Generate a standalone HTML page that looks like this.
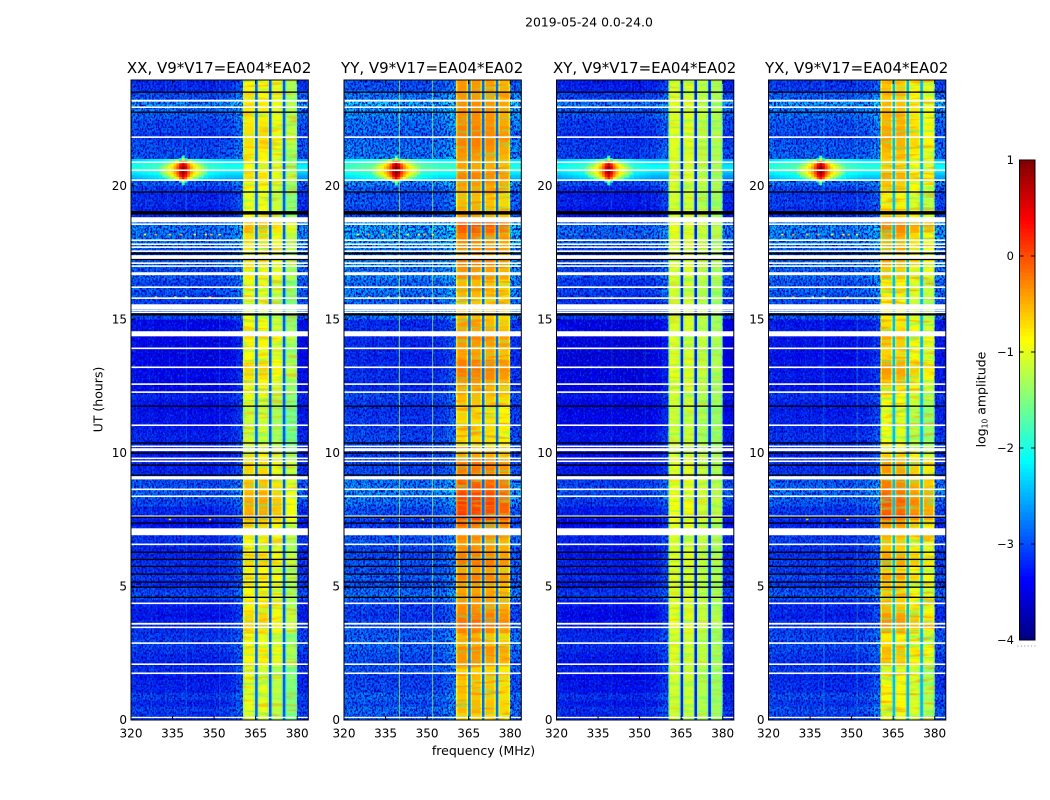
<!DOCTYPE html>
<html lang="en">
<head>
<meta charset="utf-8">
<title>2019-05-24 waterfall amplitude</title>
<style>
html,body{margin:0;padding:0;background:#fff;width:1050px;height:800px;overflow:hidden}
svg{display:block}
text{font-family:"DejaVu Sans","Liberation Sans",sans-serif;fill:#000}
</style>
</head>
<body>
<svg id="figure" xmlns="http://www.w3.org/2000/svg" width="1050" height="800" viewBox="0 0 1050 800">
  <defs>
    <filter id="speckle-dark" x="0" y="0" width="1" height="1" color-interpolation-filters="sRGB">
      <feTurbulence type="fractalNoise" baseFrequency="0.55 0.42" numOctaves="2" seed="4"/>
      <feColorMatrix type="matrix" values="0 0 0 0 0  0 0 0 0 0  0 0 0 0 0.7  4 0 0 0 -1.65"/>
    </filter>
    <filter id="speckle-light" x="0" y="0" width="1" height="1" color-interpolation-filters="sRGB">
      <feTurbulence type="fractalNoise" baseFrequency="0.55 0.4" numOctaves="2" seed="11"/>
      <feColorMatrix type="matrix" values="0 0 0 0 0  0 0 0 0 0.5  0 0 0 0 1  0 4 0 0 -2.1"/>
    </filter>
    <filter id="streak-warm" x="0" y="0" width="1" height="1" color-interpolation-filters="sRGB">
      <feTurbulence type="fractalNoise" baseFrequency="0.035 0.26" numOctaves="2" seed="7"/>
      <feColorMatrix type="matrix" values="0 0 0 0 1  0 0 0 0 0.55  0 0 0 0 0  5 0 0 0 -2.6"/>
    </filter>
    <filter id="streak-cool" x="0" y="0" width="1" height="1" color-interpolation-filters="sRGB">
      <feTurbulence type="fractalNoise" baseFrequency="0.04 0.3" numOctaves="2" seed="19"/>
      <feColorMatrix type="matrix" values="0 0 0 0 0.35  0 0 0 0 1  0 0 0 0 0.5  0 5 0 0 -2.6"/>
    </filter>
  </defs>
  <rect x="0" y="0" width="1050" height="800" fill="#ffffff"/>
  <text x="589" y="26.5" font-size="12.4" text-anchor="middle">2019-05-24 0.0-24.0</text>
  <text x="483.5" y="755" font-size="12.5" text-anchor="middle">frequency (MHz)</text>
  <text transform="translate(102.5,399.5) rotate(-90)" font-size="12.5" text-anchor="middle">UT (hours)</text>
  <text transform="translate(985.5,399.5) rotate(-90)" font-size="12.5" text-anchor="middle">log<tspan font-size="7.5" dy="2">10</tspan><tspan dy="-2"> amplitude</tspan></text>
</svg>
<script>
// ---- chart data (log10 amplitude, hours, MHz) ----
const panelTitles = ["XX, V9*V17=EA04*EA02", "YY, V9*V17=EA04*EA02", "XY, V9*V17=EA04*EA02", "YX, V9*V17=EA04*EA02"];
const xTickValues = [320, 335, 350, 365, 380];
const yTickValues = [0, 5, 10, 15, 20];
const colorbarTickValues = [-4, -3, -2, -1, 0, 1];

// one value per 0.25 h, from 0 h upward
const lowBandLevels = [
  -3.0,-2.9,-3.05,-2.9,  -3.1,-3.1,-3.15,-3.0,  -3.1,-3.05,-2.95,-2.9,  -2.95,-3.0,-3.1,-3.2,
  -3.15,-3.1,-2.85,-2.9,  -3.05,-2.95,-3.05,-3.0,  -3.1,-3.1,-3.0,-3.0,  -3.1,-3.2,-3.05,-3.05,
  -2.85,-2.75,-2.7,-2.8,  -3.0,-3.1,-3.1,-3.15,  -3.2,-3.1,-3.1,-3.15,  -3.2,-3.2,-3.25,-3.2,
  -3.1,-3.3,-3.3,-3.25,  -3.3,-3.3,-3.35,-3.3,  -3.3,-3.3,-3.25,-3.3,  -2.85,-2.8,-2.9,-2.85,
  -2.75,-2.85,-2.7,-2.8,  -2.7,-2.85,-2.75,-2.6,  -2.6,-2.55,-2.6,-3.1,  -3.1,-3.0,-3.05,-2.95,
  -2.7,-1.85,-1.7,-1.75,  -2.8,-2.8,-2.85,-2.95,  -2.85,-2.85,-2.7,-2.6,  -2.45,-2.8,-3.0,-3.05
];
const highBandLevels = [
  -1.1,-1.0,-1.0,-1.05,  -1.0,-1.05,-1.0,-1.1,  -0.85,-0.85,-0.8,-0.95,  -1.0,-0.75,-0.65,-0.7,
  -0.8,-0.85,-0.85,-0.9,  -0.85,-0.75,-0.9,-0.7,  -0.75,-0.85,-0.85,-0.8,  -0.75,-0.65,-0.45,-0.5,
  -0.45,-0.5,-0.55,-0.6,  -0.85,-0.7,-0.7,-0.9,  -1.05,-1.1,-1.15,-1.1,  -1.15,-1.1,-1.15,-1.05,
  -1.0,-0.95,-0.85,-0.75,  -0.7,-0.75,-0.9,-0.9,  -0.85,-0.75,-0.9,-0.95,  -1.0,-1.0,-1.05,-1.0,
  -0.95,-1.0,-0.8,-0.85,  -0.75,-0.9,-0.8,-0.8,  -0.75,-0.6,-0.55,-0.9,  -0.95,-1.0,-1.0,-0.9,
  -0.85,-0.75,-0.9,-0.9,  -0.85,-0.8,-0.75,-0.75,  -0.75,-0.8,-0.8,-0.8,  -0.8,-0.85,-0.85,-0.85
];
// 2 MHz low-band channels from 320 MHz
const lowChannelOffsets = [0.1,0.05,0.02,0.08,0.02,-0.02,0.06,0.03,0.0,0.04,-0.03,0.02,-0.02,0,-0.04,0.0,0.02,0.06,0.14,0.28];
const bandEdges = [[360.4,364.8],[365.6,369.8],[370.6,374.8],[375.6,380]];
const notchEdges = [[364.8,365.6],[369.8,370.6],[374.8,375.6]];
const notchLevels = [-2.9,-2.95,-2.95];
const panelNotchOffsets = [0, 0.1, -0.3, 0.45];
const bandProfile = [-0.3,0.07,-0.25];
const rightEdgeLimit = 384;
// per-polarisation adjustments: XX, YY, XY, YX
const panelLowOffsets = [-0.1, 0.16, -0.2, 0.0];
const panelHighGains = [1, 1.15, 0.3, 1.4];
const panelBandOffsets = [
  [-0.05,-0.05,-0.22,-0.5],
  [0.42,0.42,0.38,0.28],
  [-0.26,-0.26,-0.4,-0.5],
  [0.2,0.15,-0.05,-0.2]
];
// flagged (white) time ranges in hours
const flagStart = [0.06,1.71,2.05,2.84,3.43,3.56,4.33,6.54,6.91,7.59,8.34,8.6,9.0,9.65,9.76,10.06,10.21,11.0,12.24,12.54,13.17,13.88,14.36,15.23,15.31,15.38,15.76,16.17,16.65,16.96,17.07,17.25,17.52,17.67,17.78,17.93,18.53,18.63,20.18,20.55,20.85,21.79,22.91,23.15];
const flagEnd   = [0.11,1.77,2.11,2.9, 3.49,3.63,4.39,6.6, 7.17,7.65,8.4, 8.66,9.12,9.71,9.82,10.17,10.27,11.06,12.3,12.6, 13.23,13.94,14.55,15.29,15.37,15.56,15.82,16.23,16.76,17.02,17.13,17.4, 17.58,17.73,17.84,17.99,18.59,18.82,20.24,20.61,20.91,21.85,22.97,23.22];
// black (missing) time ranges in hours
const blackStart = [4.56,4.94,5.13,5.43,5.72,5.98,6.25,7.34,7.56,9.14,9.51,9.96,10.34,11.72,15.14,17.21,17.43,18.92,19.74,22.73,23.48];
const blackEnd   = [4.61,4.99,5.18,5.48,5.77,6.03,6.3, 7.39,7.61,9.19,9.56,10.01,10.39,11.77,15.22,17.26,17.5,19.05,19.79,22.78,23.53];
// broad band around the interferer, 2 MHz channels from 320 MHz, 0.1 h rows from 20.2 h up
const rfiBandStart = 20.2;
const rfiBandLevels = [-2.1,-2.05,-2.0,-1.95,-1.9,-1.85,-1.7,-1.5,-1.2,-1.0,-1.2,-1.5,-1.7,-1.85,-1.95,-2.0,-2.05,-2.1,-2.1,-2.1];
const rfiBandRowOffsets = [-0.45,-0.35,-0.2,-0.05,0.1,0.05,-0.05,-0.25];
const rfiBandRightEdge = -2.25;
// strong interferer near 338.8 MHz: rows top to bottom (0.1 h each), columns are centre then +/-1..8 MHz
const rfiFreq = 338.8;
const rfiHour = 20.58;
const rfiRowLevels = [
  [-1.9,null,null,null,null,null,null,null,null],
  [-0.9,-1.9,null,null,null,null,null,null,null],
  [0.3,-0.1,-0.7,-1.1,-1.4,-1.6,null,null,null],
  [0.7,0.35,-0.2,-0.6,-0.9,-1.15,-1.35,-1.55,null],
  [0.95,0.6,0.0,-0.4,-0.7,-0.9,-1.1,-1.3,-1.5],
  [1.0,0.65,0.05,-0.35,-0.65,-0.85,-1.05,-1.25,-1.45],
  [0.95,0.6,0.0,-0.4,-0.7,-0.9,-1.1,-1.3,-1.5],
  [0.7,0.35,-0.2,-0.6,-0.9,-1.15,-1.35,-1.55,null],
  [0.3,-0.1,-0.7,-1.1,-1.4,-1.6,null,null,null],
  [-0.9,-1.9,null,null,null,null,null,null,null],
  [-1.9,null,null,null,null,null,null,null,null]
];
// narrow-band vertical lines per polarisation
const spikeFreqs = [340, 352];
const spikeLevels = [[-2.3,-2.4],[-1.3,-1.3],[-2.5,-2.5],[-2.1,-1.9]];
// time-limited interference dots
const dotFreqs  = [325,329,334,338,343,347,349,352,329,348.5,334,348.5,336,340];
const dotHours  = [18.17,18.17,18.17,18.17,18.17,18.17,18.17,18.17,15.83,15.83,7.5,7.5,15.83,15.83];
const dotLevels = [-0.9,-0.4,-0.6,-0.5,-0.9,-0.8,-0.5,-0.9,-0.5,-0.5,-0.5,-0.5,-1.3,-1.3];
const dotPanelOn = [1,1,0.35,1];

// ---- layout ----
const NS = "http://www.w3.org/2000/svg";
const svg = document.getElementById("figure");
const lefts = [131, 344, 556.5, 768.5];
const axWidth = 177.3, top0 = 80, bottom0 = 720;
const fMin = 320, fMax = 384, hMin = -0.01, hMax = 23.96;
const rowStep = 0.25;
const warmStreakOpacity = [0.4, 0.75, 0.2, 0.6];
const coolStreakOpacity = [0.45, 0.35, 0.45, 0.45];
const spikeOpacity = [0.22, 0.7, 0.18, 0.3];

function el(tag, attrs, parent) {
  const node = document.createElementNS(NS, tag);
  for (const k in attrs) node.setAttribute(k, attrs[k]);
  parent.appendChild(node);
  return node;
}
function jet(v) {
  const t = Math.max(0, Math.min(1, (v + 4) / 5));
  const c = x => Math.round(255 * Math.max(0, Math.min(1, x)));
  return "rgb(" + c(1.5 - Math.abs(4*t - 3)) + "," + c(1.5 - Math.abs(4*t - 2)) + "," + c(1.5 - Math.abs(4*t - 1)) + ")";
}
function cellRect(group, f0, f1, h0, h1, xs, ys, level, name) {
  const y0 = Math.max(top0, ys(h1)), y1 = Math.min(bottom0, ys(h0));
  const r = el("rect", {x: xs(f0).toFixed(2), y: y0.toFixed(2), width: (xs(f1) - xs(f0) + 0.3).toFixed(2), height: (y1 - y0 + 0.3).toFixed(2), fill: jet(level)}, group);
  
  
  return r;
}

panelTitles.forEach(function (title, p) {
  const L = lefts[p];
  const xs = f => L + (f - fMin) / (fMax - fMin) * axWidth;
  const ys = h => bottom0 - (h - hMin) / (hMax - hMin) * (bottom0 - top0);
  const panel = el("g", {}, svg);
  
  
  const clipId = "clip" + p;
  const clip = el("clipPath", {id: clipId}, panel);
  el("rect", {x: L, y: top0, width: axWidth, height: bottom0 - top0}, clip);
  const plot = el("g", {"clip-path": "url(#" + clipId + ")"}, panel);
  
  

  lowBandLevels.forEach(function (low, r) {
    const h0 = r * rowStep, h1 = h0 + rowStep;
    const lowV = low + panelLowOffsets[p];
    const high = highBandLevels[r];
    lowChannelOffsets.forEach(function (o, c) {
      const f0 = fMin + 2 * c, f1 = c === lowChannelOffsets.length - 1 ? bandEdges[0][0] : f0 + 2;
      cellRect(plot, f0, f1, h0, h1, xs, ys, lowV + o, 'heatmap-cell');
    });
    bandEdges.forEach(function (edge, b) {
      const w = edge[1] - edge[0];
      const meanHigh = -0.85;
      const v = meanHigh + (high - meanHigh) * panelHighGains[p] + panelBandOffsets[p][b];
      const cuts = [edge[0], edge[0] + 0.13 * w, edge[1] - 0.13 * w, edge[1]];
      bandProfile.forEach(function (shape, s) {
        cellRect(plot, cuts[s], cuts[s + 1], h0, h1, xs, ys, v + shape, 'heatmap-cell');
      });
    });
    cellRect(plot, bandEdges[3][1], rightEdgeLimit, h0, h1, xs, ys, lowV + 0.12, 'heatmap-cell');
  });

  // speckle texture
  const s1 = el("rect", {x: xs(fMin), y: top0, width: xs(bandEdges[0][0]) - xs(fMin), height: bottom0 - top0, filter: "url(#speckle-dark)"}, plot);
  
  
  const s2 = el("rect", {x: xs(fMin), y: top0, width: xs(bandEdges[0][0]) - xs(fMin), height: bottom0 - top0, filter: "url(#speckle-light)", opacity: 0.5}, plot);
  
  
  const s3 = el("rect", {x: xs(bandEdges[3][1]), y: top0, width: xs(rightEdgeLimit) - xs(bandEdges[3][1]), height: bottom0 - top0, filter: "url(#speckle-dark)"}, plot);
  
  

  // horizontal streak texture inside the high band blocks
  bandEdges.forEach(function (edge) {
    const warm = el("rect", {x: xs(edge[0]), y: top0, width: xs(edge[1]) - xs(edge[0]), height: bottom0 - top0, filter: "url(#streak-warm)", opacity: warmStreakOpacity[p]}, plot);
    
    
    const cool = el("rect", {x: xs(edge[0]), y: top0, width: xs(edge[1]) - xs(edge[0]), height: bottom0 - top0, filter: "url(#streak-cool)", opacity: coolStreakOpacity[p]}, plot);
    
    
  });

  // notches between blocks, above the textures
  lowBandLevels.forEach(function (low, r) {
    const h0 = r * rowStep, h1 = h0 + rowStep;
    notchEdges.forEach(function (edge, n) {
      cellRect(plot, edge[0], edge[1], h0, h1, xs, ys, notchLevels[n] + panelNotchOffsets[p], 'notch-cell');
    });
  });

  // narrow-band vertical lines
  spikeFreqs.forEach(function (f, i) {
    const ln = el("rect", {x: xs(f) - 0.5, y: top0, width: 1, height: bottom0 - top0, fill: jet(spikeLevels[p][i]), opacity: spikeOpacity[p]}, plot);
    
    
  });

  // interference dots
  dotFreqs.forEach(function (f, i) {
    const d = el("rect", {x: xs(f) - 1.2, y: ys(dotHours[i]) - 0.8, width: 2.4, height: 1.6, fill: jet(dotLevels[i]), opacity: dotPanelOn[p]}, plot);
    
    
  });

  // smooth band around the interferer
  rfiBandRowOffsets.forEach(function (rowOff, i) {
    const h0 = rfiBandStart + i * 0.1, h1 = h0 + 0.1;
    const boost = (panelLowOffsets[p] - panelLowOffsets[0]) * 0.7;
    rfiBandLevels.forEach(function (lvl, c) {
      const f0 = fMin + 2 * c, f1 = c === rfiBandLevels.length - 1 ? bandEdges[0][0] : f0 + 2;
      cellRect(plot, f0, f1, h0, h1, xs, ys, lvl + rowOff + boost, 'interferer-band-cell');
    });
    cellRect(plot, bandEdges[3][1], rightEdgeLimit, h0, h1, xs, ys, rfiBandRightEdge + rowOff + boost, 'interferer-band-cell');
  });

  // strong interferer
  rfiRowLevels.forEach(function (row, i) {
    const h1 = rfiHour + 0.55 - i * 0.1, h0 = h1 - 0.1;
    row.forEach(function (lvl, j) {
      if (lvl === null) return;
      const v = lvl + panelLowOffsets[p] * 0.5;
      cellRect(plot, rfiFreq + j - 0.5, rfiFreq + j + 0.5, h0, h1, xs, ys, v, 'interferer-cell');
      if (j > 0) cellRect(plot, rfiFreq - j - 0.5, rfiFreq - j + 0.5, h0, h1, xs, ys, v, 'interferer-cell');
    });
  });

  // flagged and missing rows
  flagStart.forEach(function (h, i) {
    const g = el("rect", {x: L, y: ys(flagEnd[i]), width: axWidth, height: ys(h) - ys(flagEnd[i]), fill: "#ffffff"}, plot);
    
    
  });
  blackStart.forEach(function (h, i) {
    const g = el("rect", {x: L, y: ys(blackEnd[i]), width: axWidth, height: ys(h) - ys(blackEnd[i]), fill: "#000000"}, plot);
    
    
  });

  // frame
  const frame = el("rect", {x: L, y: top0, width: axWidth, height: bottom0 - top0, fill: "none", stroke: "#000", "stroke-width": 1}, panel);
  
  

  // ticks
  xTickValues.forEach(function (v) {
    const x = xs(v);
    const t1 = el("line", {x1: x, x2: x, y1: bottom0, y2: bottom0 - 4, stroke: "#000", "stroke-width": 1}, panel);
    
    
    const t2 = el("line", {x1: x, x2: x, y1: top0, y2: top0 + 4, stroke: "#000", "stroke-width": 1}, panel);
    
    
    const lab = el("text", {x: x, y: 737.5, "font-size": 12, "text-anchor": "middle"}, panel);
    lab.textContent = String(v);
    
    
  });
  yTickValues.forEach(function (v) {
    const y = ys(v);
    const t1 = el("line", {x1: L, x2: L + 4, y1: y, y2: y, stroke: "#000", "stroke-width": 1}, panel);
    
    
    const t2 = el("line", {x1: L + axWidth, x2: L + axWidth - 4, y1: y, y2: y, stroke: "#000", "stroke-width": 1}, panel);
    
    
    const lab = el("text", {x: L - 4, y: y + 4.5, "font-size": 12, "text-anchor": "end"}, panel);
    lab.textContent = String(v);
    
    
  });
  const tt = el("text", {x: L + axWidth / 2 - 0.5, y: 73, "font-size": 15, "text-anchor": "middle"}, panel);
  tt.textContent = title;
  
  
});

// ---- colorbar ----
(function () {
  const cx0 = 1019.5, cx1 = 1035, cy0 = 160, cy1 = 640;
  const cy = v => cy1 - (v + 4) / 5 * (cy1 - cy0);
  const bar = el("g", {}, svg);
  
  
  const steps = 120;
  for (let i = 0; i < steps; i++) {
    const v0 = -4 + 5 * i / steps, v1 = -4 + 5 * (i + 1) / steps;
    const s = el("rect", {x: cx0, y: cy(v1), width: cx1 - cx0, height: cy(v0) - cy(v1) + 0.4, fill: jet((v0 + v1) / 2)}, bar);
    
    
  }
  const fr = el("rect", {x: cx0, y: cy0, width: cx1 - cx0, height: cy1 - cy0, fill: "none", stroke: "#000", "stroke-width": 1}, bar);
  
  
  colorbarTickValues.forEach(function (v) {
    const y = cy(v);
    const t1 = el("line", {x1: cx0, x2: cx0 + 4, y1: y, y2: y, stroke: "#000", "stroke-width": 1}, bar);
    
    
    const t2 = el("line", {x1: cx1, x2: cx1 - 4, y1: y, y2: y, stroke: "#000", "stroke-width": 1}, bar);
    
    
    const lab = el("text", {x: 1014, y: y + 4, "font-size": 11.5, "text-anchor": "end"}, bar);
    lab.textContent = v < 0 ? "\u2212" + Math.abs(v) : String(v);
    
    
  });
  for (let i = 0; i < 6; i++) {
    const d = el("rect", {x: 1017.5 + i * 3.4, y: 645.5, width: 1, height: 1, fill: "#888"}, bar);
    
    
  }
})();
</script>
</body>
</html>
